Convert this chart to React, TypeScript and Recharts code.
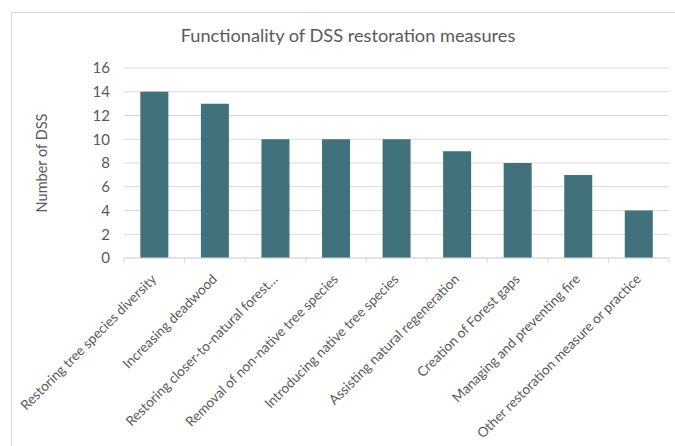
import React from 'react'
import { BarChart, Bar, XAxis, YAxis, CartesianGrid, Label } from 'recharts'

// DSS restoration measures
const categories = [
  'Restoring tree species diversity',
  'Increasing deadwood',
  'Restoring closer-to-natural forest…',
  'Removal of non-native tree species',
  'Introducing native tree species',
  'Assisting natural regeneration',
  'Creation of Forest gaps',
  'Managing and preventing fire',
  'Other restoration measure or practice',
]
const dssCounts = [14, 13, 10, 10, 10, 9, 8, 7, 4]
const yTicks = [0, 2, 4, 6, 8, 10, 12, 14, 16]

const FONT = 'Lato, "Open Sans", sans-serif'
const TXT = '#595959'
const GRID = '#d9d9d9'
const BAR = '#41717a'

const data = categories.map((name, i) => ({ name, count: dssCounts[i] }))

// category label rotated 45deg + small tick marks on the category boundaries
const CatTick = (props: any) => {
  const { x, y, payload, index, width, visibleTicksCount } = props
  const band = Number(width) / (visibleTicksCount || categories.length)
  const tx = x + 3, ty = y + 22
  return (
    <g>
      <line x1={x - band / 2} x2={x - band / 2} y1={y} y2={y + 5} stroke={GRID} />
      {index === categories.length - 1 && (
        <line x1={x + band / 2} x2={x + band / 2} y1={y} y2={y + 5} stroke={GRID} />
      )}
      <text x={tx} y={ty} transform={`rotate(-45 ${tx} ${ty})`}
        textAnchor="end" fill={TXT} fontSize={13.6} fontFamily={FONT}>
        {payload.value}
      </text>
    </g>
  )
}

export default function App() {
  return (
    <div style={{ position: 'absolute', left: 0, top: 0, width: 675, height: 446, overflow: 'hidden', background: '#fff' }}>
      <div style={{ position: 'absolute', left: 11, top: 12, width: 700, height: 500, border: `1px solid ${GRID}`, boxSizing: 'border-box' }} />
      <div style={{
        position: 'absolute', left: 0, top: 24, width: 696, textAlign: 'center',
        fontFamily: FONT, fontSize: 18.2, color: TXT, whiteSpace: 'nowrap',
      }}>
        Functionality of DSS restoration measures
      </div>
      <BarChart width={675} height={446} data={data} barCategoryGap="27%"
        margin={{ top: 68, right: 6, left: 0, bottom: 0 }} style={{ position: 'absolute', left: 0, top: 0 }}>
        <CartesianGrid vertical={false} stroke={GRID} />
        <XAxis dataKey="name" interval={0} tickLine={false} tickSize={0} tickMargin={0}
          axisLine={{ stroke: GRID }} height={188} tick={<CatTick />} />
        <YAxis domain={[0, 16]} ticks={yTicks} width={124} axisLine={false} tickLine={false}
          tickSize={0} tickMargin={14} tick={{ fill: TXT, fontSize: 15, fontFamily: FONT }}>
          <Label content={() => (
            <text x={47} y={163} transform="rotate(-90 47 163)" textAnchor="middle"
              fill={TXT} fontSize={14.5} fontFamily={FONT}>Number of DSS</text>
          )} />
        </YAxis>
        <Bar dataKey="count" fill={BAR} isAnimationActive={false} />
      </BarChart>
    </div>
  )
}
